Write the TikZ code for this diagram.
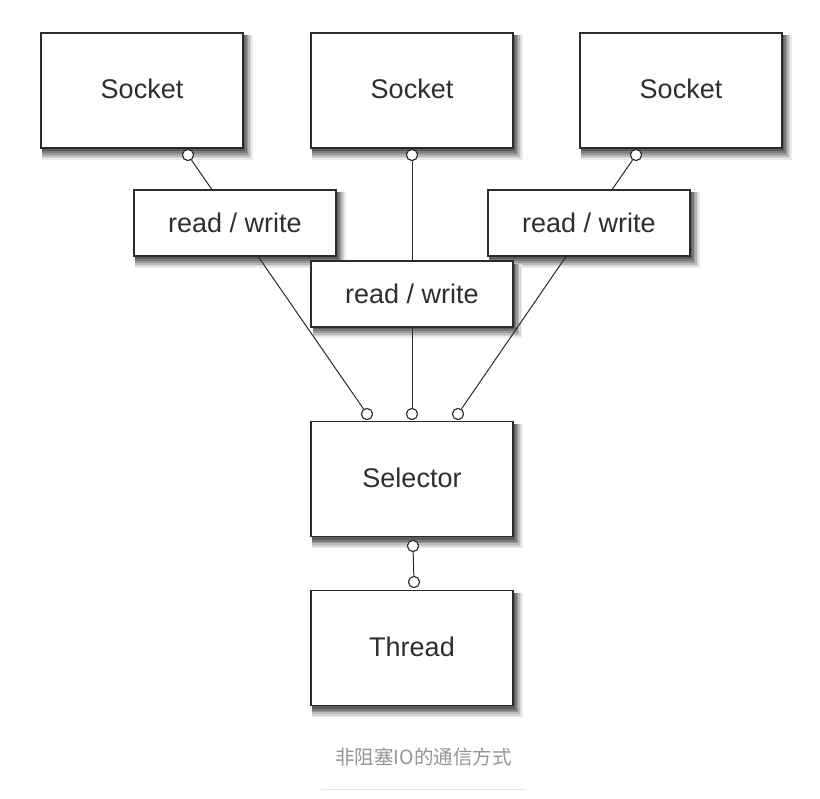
\documentclass[tikz,border=0pt]{standalone}
\usepackage{fontspec}
\setmainfont{Liberation Sans}
\newfontfamily\cjk{Noto Sans CJK SC}
\usetikzlibrary{calc,backgrounds}
\definecolor{edge}{HTML}{2B2B2B}
\definecolor{captiongray}{HTML}{959595}
\begin{document}
\begin{tikzpicture}[x=1pt,y=-1pt,
  box/.style={draw=edge,line width=1.4pt,fill=white,inner sep=0pt,
    minimum width=202pt,
    font=\fontsize{27}{30}\selectfont,text=black!82},
  bigbox/.style={box,minimum height=115pt},
  rwbox/.style={box,minimum height=66pt},
  port/.style={circle,draw=edge,line width=1pt,fill=white,inner sep=0pt,minimum size=11pt},
  wire/.style={draw=edge,line width=1pt}]
\useasboundingbox (0,0) rectangle (820,799);

% soft shadow layers: reach right / down, grey level
\def\shadowlayers{9/11/8,7.5/9.5/16,6/8/27,4.5/6/40,3/4.5/52,1.5/2.5/64}

% sockets
\node[bigbox] (s1) at (142,90.5) {\raisebox{3pt}{Socket}};
\node[bigbox] (s2) at (412,90.5) {\raisebox{3pt}{Socket}};
\node[bigbox] (s3) at (681,90.5) {\raisebox{3pt}{Socket}};

% outer read / write channels
\node[rwbox] (rw1) at (235,223) {read / write};
\node[rwbox] (rw3) at (589,223) {read / write};

% ports under the sockets
\node[port] (ps1) at (188,155) {};
\node[port] (ps2) at (412,155) {};
\node[port] (ps3) at (636,155) {};

% selector and its ports
\node[bigbox] (sel) at (412,479) {\raisebox{3pt}{Selector}};
\node[port] (pl) at (367,414) {};
\node[port] (pm) at (412,414) {};
\node[port] (pr) at (458,414) {};
\node[port] (pb) at (413,546) {};

% thread
\node[bigbox] (thr) at (412,648) {\raisebox{3pt}{Thread}};
\node[port] (pt) at (414,582) {};

% drop shadows behind everything
\coordinate (rw2nw) at (311,261);
\coordinate (rw2se) at (513,327);
\begin{scope}[on background layer]
  \foreach \b in {s1,s2,s3,rw1,rw3,sel,thr}{
    \foreach \dx/\dy/\shade in \shadowlayers
      \fill[black!\shade] ($(\b.north west)+(2,3)$) rectangle ($(\b.south east)+(\dx,\dy)$);
  }
  \foreach \dx/\dy/\shade in \shadowlayers
    \fill[black!\shade] ($(rw2nw)+(2,3)$) rectangle ($(rw2se)+(\dx,\dy)$);
\end{scope}

% connectors
\draw[wire] (ps1) -- (rw1);
\draw[wire] (ps3) -- (rw3);
\draw[wire] (rw1) -- (pl);
\draw[wire] (rw3) -- (pr);
\draw[wire] (ps2) -- (pm);
\draw[wire] (pb) -- (pt);

% middle channel over the vertical line
\node[rwbox] (rw2) at (412,294) {read / write};

% ports redrawn over the line ends
\foreach \p in {ps1,ps2,ps3,pl,pm,pr,pb,pt}
  \node[port] at (\p) {};

% caption
\node[text=captiongray,font=\cjk\fontsize{19.5}{22}\selectfont] (cap) at (423.5,757) {非阻塞IO的通信方式};
\draw[black!10,line width=0.8pt] (321,789) -- (526,789);
\end{tikzpicture}
\end{document}
